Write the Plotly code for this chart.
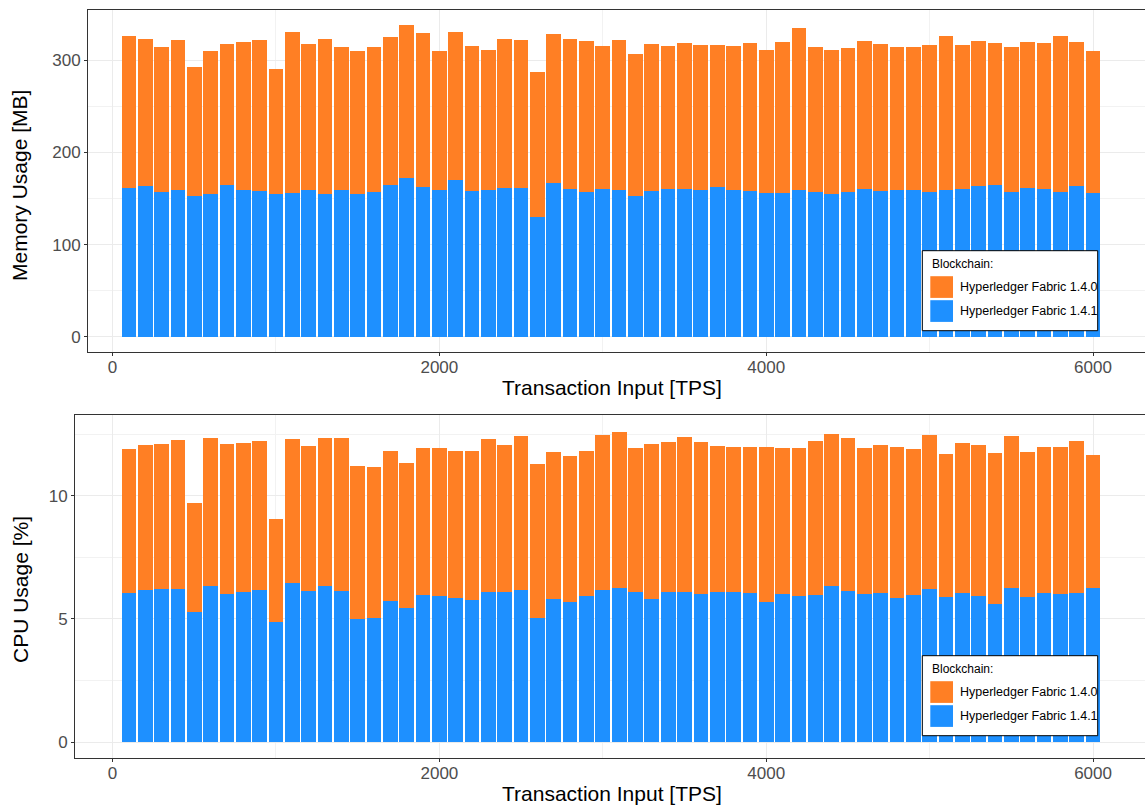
import plotly.graph_objects as go

tps = list(range(100, 6001, 100))

mem_141 = [161.8, 163.9, 157.4, 159.6, 153.1, 155.3, 165.0, 159.6, 158.5, 155.3,
           156.4, 159.6, 155.3, 159.6, 155.3, 157.4, 165.0, 172.6, 162.8, 159.6,
           170.4, 158.5, 159.6, 161.8, 161.8, 130.3, 167.2, 160.7, 157.4, 160.7,
           159.6, 153.1, 158.5, 160.7, 160.7, 159.6, 162.8, 159.6, 158.5, 156.4,
           156.4, 159.6, 157.4, 155.3, 157.4, 160.7, 158.5, 159.6, 159.6, 157.4,
           159.6, 160.7, 163.9, 165.0, 157.4, 161.8, 160.7, 157.4, 163.9, 156.4]
mem_140 = [164.2, 159.1, 156.6, 162.4, 139.4, 154.7, 152.0, 160.4, 163.5, 134.7,
           173.6, 157.4, 167.7, 154.4, 154.7, 156.6, 160.0, 165.4, 166.2, 150.4,
           159.6, 156.8, 151.4, 161.2, 160.2, 156.7, 160.8, 162.3, 163.3, 154.6,
           162.4, 153.5, 158.5, 154.6, 157.8, 156.8, 153.6, 155.7, 160.0, 154.6,
           163.2, 175.2, 156.8, 155.7, 155.7, 160.0, 158.9, 154.6, 154.6, 159.0,
           166.5, 155.7, 156.8, 153.5, 156.8, 157.8, 157.8, 168.7, 155.7, 153.6]

cpu_141 = [6.07, 6.19, 6.23, 6.23, 5.30, 6.33, 6.03, 6.11, 6.19, 4.86,
           6.48, 6.15, 6.33, 6.15, 4.98, 5.02, 5.75, 5.43, 5.99, 5.95,
           5.87, 5.79, 6.11, 6.11, 6.19, 5.06, 5.83, 5.71, 5.95, 6.19,
           6.27, 6.11, 5.83, 6.11, 6.11, 6.03, 6.11, 6.11, 6.07, 5.71,
           6.03, 5.95, 5.99, 6.36, 6.15, 6.03, 6.07, 5.87, 5.99, 6.23,
           5.91, 6.07, 5.95, 5.59, 6.27, 5.91, 6.07, 6.03, 6.07, 6.27]
cpu_140 = [5.83, 5.87, 5.87, 6.04, 4.42, 6.02, 6.07, 6.04, 6.04, 4.21,
           5.83, 5.87, 6.02, 6.20, 6.23, 6.15, 6.07, 5.91, 5.95, 5.99,
           5.95, 6.03, 6.20, 5.95, 6.24, 6.24, 5.95, 5.91, 5.87, 6.28,
           6.32, 5.83, 6.27, 6.08, 6.28, 6.16, 5.91, 5.87, 5.91, 6.27,
           5.91, 5.99, 6.24, 6.15, 6.20, 5.91, 5.99, 6.11, 5.91, 6.24,
           5.79, 6.08, 6.11, 6.15, 6.16, 5.87, 5.91, 5.95, 6.16, 5.39]

name_140 = "Hyperledger Fabric 1.4.0"
name_141 = "Hyperledger Fabric 1.4.1"
col_140 = "#FF7F24"
col_141 = "#1E90FF"
legend_title = "Blockchain:"

W, H = 1145, 806
FONT = "Liberation Sans, Arial, Helvetica, sans-serif"

fig = go.Figure()
bw = 90
fig.add_trace(go.Bar(x=tps, y=mem_141, width=bw, name=name_141, showlegend=False,
                     marker=dict(color=col_141, line=dict(width=0)), xaxis="x", yaxis="y"))
fig.add_trace(go.Bar(x=tps, y=mem_140, width=bw, name=name_140, showlegend=False,
                     marker=dict(color=col_140, line=dict(width=0)), xaxis="x", yaxis="y"))
fig.add_trace(go.Bar(x=tps, y=cpu_141, width=bw, name=name_141, showlegend=False,
                     marker=dict(color=col_141, line=dict(width=0)), xaxis="x2", yaxis="y2"))
fig.add_trace(go.Bar(x=tps, y=cpu_140, width=bw, name=name_140, showlegend=False,
                     marker=dict(color=col_140, line=dict(width=0)), xaxis="x2", yaxis="y2"))


def px_x(p):
    return p / W


def px_y(p):
    return (H - p) / H


grid = "#EBEBEB"
tickfont = dict(family=FONT, size=17, color="#4D4D4D")
minor_grid = dict(showgrid=True, gridcolor="#F2F2F2", gridwidth=0.6, ticks="")
common_axis = dict(showline=True, linecolor="#333333", linewidth=1, mirror=True,
                   gridcolor=grid, gridwidth=1.1, zeroline=False,
                   ticks="outside", ticklen=3, tickcolor="#333333", tickfont=tickfont)

fig.update_layout(
    width=W, height=H, margin=dict(l=0, r=0, t=0, b=0),
    paper_bgcolor="white", plot_bgcolor="white",
    barmode="stack", bargap=0, showlegend=False,
    font=dict(family=FONT),
    xaxis=dict(domain=[px_x(88), 1.0], anchor="y", range=[-150, 6318],
               tickvals=[0, 2000, 4000, 6000], ticktext=["0", "2000", "4000", "6000"],
               minor=dict(tickvals=[1000, 3000, 5000], **minor_grid),
               ticklabelstandoff=-3, **common_axis),
    yaxis=dict(domain=[px_y(352), px_y(10)], anchor="x", range=[-16.3, 354.3],
               tickvals=[0, 100, 200, 300],
               minor=dict(tickvals=[50, 150, 250], **minor_grid),
               ticklabelstandoff=0, **common_axis),
    xaxis2=dict(domain=[px_x(75), 1.0], anchor="y2", range=[-230, 6318],
                tickvals=[0, 2000, 4000, 6000], ticktext=["0", "2000", "4000", "6000"],
                minor=dict(tickvals=[1000, 3000, 5000], **minor_grid),
                ticklabelstandoff=-3, **common_axis),
    yaxis2=dict(domain=[px_y(758), px_y(415)], anchor="x2", range=[-0.65, 13.29],
                tickvals=[0, 5, 10],
                minor=dict(tickvals=[2.5, 7.5, 12.5], **minor_grid),
                ticklabelstandoff=0, **common_axis),
)

# axis titles
title_font = dict(family=FONT, size=21, color="black")
fig.add_annotation(text="Memory Usage [MB]", xref="paper", yref="paper", x=px_x(20), y=px_y(186),
                   textangle=-90, showarrow=False, font=title_font, xanchor="center", yanchor="middle")
fig.add_annotation(text="CPU Usage [%]", xref="paper", yref="paper", x=px_x(20), y=px_y(590),
                   textangle=-90, showarrow=False, font=title_font, xanchor="center", yanchor="middle")
fig.add_annotation(text="Transaction Input [TPS]", xref="paper", yref="paper", x=px_x(612), y=px_y(387),
                   showarrow=False, font=title_font, xanchor="center", yanchor="middle")
fig.add_annotation(text="Transaction Input [TPS]", xref="paper", yref="paper", x=px_x(612), y=px_y(793),
                   showarrow=False, font=title_font, xanchor="center", yanchor="middle")


# legends drawn as boxes (ggplot-style keys)
def add_legend(top):
    fig.add_shape(type="rect", xref="paper", yref="paper",
                  x0=px_x(922.3), x1=px_x(1097.7), y0=px_y(top + 80), y1=px_y(top),
                  fillcolor="white", line=dict(color="black", width=1), layer="above")
    fig.add_annotation(text=legend_title, xref="paper", yref="paper", x=px_x(930), y=px_y(top + 13.5),
                       xanchor="left", yanchor="middle", showarrow=False,
                       font=dict(family=FONT, size=12, color="black"))
    for i, (nm, col) in enumerate([(name_140, col_140), (name_141, col_141)]):
        y0 = top + 25.5 + i * 24
        fig.add_shape(type="rect", xref="paper", yref="paper",
                      x0=px_x(930.3), x1=px_x(953), y0=px_y(y0 + 21.7), y1=px_y(y0),
                      fillcolor=col, line=dict(width=0), layer="above")
        fig.add_annotation(text=nm, xref="paper", yref="paper", x=px_x(958), y=px_y(y0 + 11),
                           xanchor="left", yanchor="middle", showarrow=False,
                           font=dict(family=FONT, size=12.5, color="black"))


add_legend(250.7)
add_legend(655.7)

fig.write_html("out.html", config={"displayModeBar": False},
               post_script="document.body.style.margin='0px';")
